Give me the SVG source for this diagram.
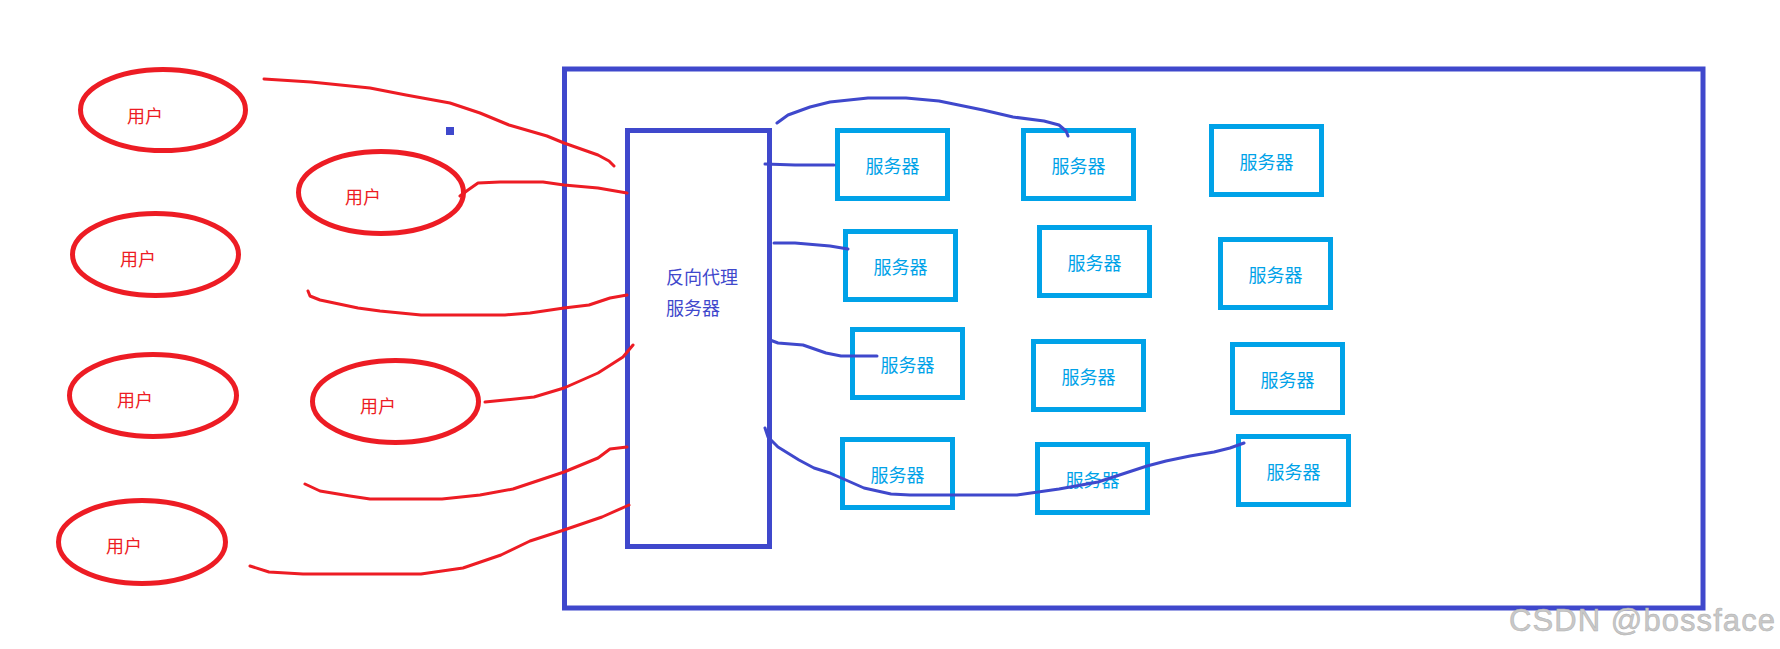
<svg xmlns="http://www.w3.org/2000/svg" width="1780" height="649" viewBox="0 0 1780 649">
<style>
.frame{fill:none;stroke:#3f48cc;stroke-width:5}
.srv rect{fill:none;stroke:#00a2e8;stroke-width:5}
.srv text{fill:#00a2e8;font-family:"Noto Sans CJK SC","Noto Sans",sans-serif;font-size:18px;text-anchor:middle;dominant-baseline:central}
.user ellipse{fill:none;stroke:#ed1c24;stroke-width:5}
.user text{fill:#ed1c24;font-family:"Noto Sans CJK SC","Noto Sans",sans-serif;font-size:18px;text-anchor:middle;dominant-baseline:central}
.proxy text{fill:#3f48cc;font-family:"Noto Sans CJK SC","Noto Sans",sans-serif;font-size:18px}
.red{fill:none;stroke:#ed1c24;stroke-width:3;stroke-linecap:round;stroke-linejoin:round}
.blue{fill:none;stroke:#3f48cc;stroke-width:3;stroke-linecap:round;stroke-linejoin:round}
</style>
<rect width="1780" height="649" fill="#ffffff"/>
<rect id="frame" class="frame" x="564.5" y="69" width="1138.5" height="539"/>
<rect id="dot" x="446" y="127" width="8" height="8" fill="#3f48cc"/>

<g id="proxy" class="proxy">
<rect class="frame" x="627.5" y="130.5" width="142" height="416"/>
<text x="666" y="284">反向代理</text>
<text x="666" y="315">服务器</text>
</g>

<g id="server-r1c1" class="srv"><rect x="837.5" y="130.5" width="110" height="68"/><text x="892.5" y="164.5">服务器</text></g>
<g id="server-r1c2" class="srv"><rect x="1023.5" y="130.5" width="110" height="68"/><text x="1078.5" y="164.5">服务器</text></g>
<g id="server-r1c3" class="srv"><rect x="1211.5" y="126.5" width="110" height="68"/><text x="1266.5" y="160.5">服务器</text></g>
<g id="server-r2c1" class="srv"><rect x="845.5" y="231.5" width="110" height="68"/><text x="900.5" y="265.5">服务器</text></g>
<g id="server-r2c2" class="srv"><rect x="1039.5" y="227.5" width="110" height="68"/><text x="1094.5" y="261.5">服务器</text></g>
<g id="server-r2c3" class="srv"><rect x="1220.5" y="239.5" width="110" height="68"/><text x="1275.5" y="273.5">服务器</text></g>
<g id="server-r3c1" class="srv"><rect x="852.5" y="329.5" width="110" height="68"/><text x="907.5" y="363.5">服务器</text></g>
<g id="server-r3c2" class="srv"><rect x="1033.5" y="341.5" width="110" height="68"/><text x="1088.5" y="375.5">服务器</text></g>
<g id="server-r3c3" class="srv"><rect x="1232.5" y="344.5" width="110" height="68"/><text x="1287.5" y="378.5">服务器</text></g>
<g id="server-r4c1" class="srv"><rect x="842.5" y="439.5" width="110" height="68"/><text x="897.5" y="473.5">服务器</text></g>
<g id="server-r4c2" class="srv"><rect x="1037.5" y="444.5" width="110" height="68"/><text x="1092.5" y="478.5">服务器</text></g>
<g id="server-r4c3" class="srv"><rect x="1238.5" y="436.5" width="110" height="68"/><text x="1293.5" y="470.5">服务器</text></g>

<g id="user-1" class="user"><ellipse cx="163" cy="110" rx="82.5" ry="40.5"/><text x="145" y="114.5">用户</text></g>
<g id="user-2" class="user"><ellipse cx="381" cy="192.5" rx="82.5" ry="41"/><text x="363" y="196">用户</text></g>
<g id="user-3" class="user"><ellipse cx="155.5" cy="254.5" rx="83" ry="41"/><text x="138" y="258">用户</text></g>
<g id="user-4" class="user"><ellipse cx="153" cy="395.5" rx="83.5" ry="41"/><text x="135" y="399">用户</text></g>
<g id="user-5" class="user"><ellipse cx="395.5" cy="401.5" rx="83" ry="41"/><text x="378" y="405">用户</text></g>
<g id="user-6" class="user"><ellipse cx="142" cy="542" rx="83.5" ry="41.5"/><text x="124" y="545">用户</text></g>

<g id="connectors">
<path class="red" d="M264,79 L311,82 L370,88 L406,95 L450,103 L480,113 L509,125 L547,136 L564,143 L598,155 L609,161 L614,166"/>
<path class="red" d="M460,196 L468,190 L478,183 L500,182 L543,182 L564,185 L598,188 L627,193"/>
<path class="red" d="M308,291 L310,296 L320,300 L358,308 L380,311 L421,315 L505,315 L530,313 L564,308 L589,305 L610,298 L627,295"/>
<path class="red" d="M485,402 L534,397 L564,388 L598,373 L623,357 L633,345"/>
<path class="red" d="M305,484 L320,491 L350,496 L370,499 L442,499 L480,495 L513,489 L564,472 L598,458 L610,449 L627,447"/>
<path class="red" d="M250,566 L269,572 L303,574 L421,574 L463,568 L501,555 L530,541 L564,530 L602,517 L629,505"/>
<path class="blue" d="M777,123 L788,115 L810,107 L830,102 L868,98 L906,98 L939,101 L983,110 L1013,117 L1044,121 L1059,125 L1066,131 L1068,136"/>
<path class="blue" d="M765,164 L795,165 L834,165"/>
<path class="blue" d="M774,243 L795,243 L830,246 L848,249"/>
<path class="blue" d="M770,340 L778,343 L803,345 L826,353 L841,356 L877,356"/>
<path class="blue" d="M765,428 L768,437 L778,447 L799,460 L814,468 L830,473 L864,488 L891,494 L910,495 L1017,495 L1059,489 L1098,482 L1147,466 L1166,461 L1190,456 L1214,452 L1230,448 L1244,443"/>
</g>

<text id="watermark" x="1509" y="631" font-family="Liberation Sans, Arial, sans-serif" font-size="31" fill="#c8c8c8" stroke="#b0b0b0" stroke-width="0.5" textLength="266">CSDN @bossface</text>
</svg>
